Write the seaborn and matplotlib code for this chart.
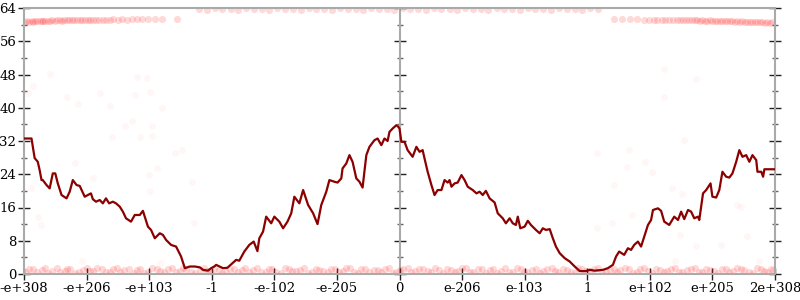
import matplotlib
matplotlib.use("Agg")
import matplotlib.pyplot as plt
import seaborn as sns
import pandas as pd
from matplotlib.ticker import MultipleLocator, NullFormatter, FixedLocator

# ---------------- data ----------------
tick_pos = [-6, -5, -4, -3, -2, -1, 0, 1, 2, 3, 4, 5, 6]
tick_labels = ["-e+308", "-e+206", "-e+103", "-1", "-e-102", "-e-205", "0",
               "e-206", "e-103", "1", "e+102", "e+205", "2e+308"]

line_x = [
    -6.00, -5.88, -5.83, -5.78, -5.75, -5.72, -5.70, -5.64, -5.59, -5.54,
    -5.50, -5.46, -5.40, -5.32, -5.27, -5.22, -5.16, -5.11, -5.03, -4.98,
    -4.93, -4.90, -4.85, -4.79, -4.74, -4.69, -4.64, -4.58, -4.53, -4.47,
    -4.42, -4.37, -4.29, -4.23, -4.15, -4.10, -4.07, -4.02, -3.97, -3.91,
    -3.83, -3.78, -3.73, -3.65, -3.57, -3.49, -3.43, -3.35, -3.27, -3.19,
    -3.14, -3.06, -3.01, -2.96, -2.93, -2.82, -2.75, -2.69, -2.61, -2.56,
    -2.48, -2.40, -2.33, -2.27, -2.24, -2.18, -2.13, -2.05, -2.00, -1.92,
    -1.86, -1.79, -1.73, -1.68, -1.60, -1.54, -1.46, -1.38, -1.31, -1.25,
    -1.17, -1.12, -1.04, -0.99, -0.93, -0.91, -0.85, -0.80, -0.75, -0.69,
    -0.64, -0.59, -0.53, -0.48, -0.40, -0.35, -0.29, -0.24, -0.19, -0.16,
    -0.11, -0.05, -0.03, 0.00, 0.03, 0.08, 0.13, 0.21, 0.27, 0.32,
    0.37, 0.40, 0.45, 0.51, 0.56, 0.61, 0.67, 0.72, 0.77, 0.80,
    0.83, 0.88, 0.93, 0.99, 1.04, 1.09, 1.17, 1.23, 1.28, 1.33,
    1.38, 1.44, 1.52, 1.57, 1.65, 1.70, 1.76, 1.81, 1.86, 1.89,
    1.93, 2.00, 2.05, 2.10, 2.18, 2.24, 2.29, 2.34, 2.40, 2.45,
    2.50, 2.56, 2.64, 2.72, 2.80, 2.88, 2.98, 3.04, 3.12, 3.25,
    3.33, 3.41, 3.46, 3.51, 3.59, 3.65, 3.70, 3.75, 3.81, 3.86,
    3.91, 3.97, 4.02, 4.05, 4.13, 4.18, 4.23, 4.31, 4.39, 4.45,
    4.50, 4.55, 4.61, 4.66, 4.71, 4.77, 4.79, 4.85, 4.90, 4.97,
    5.00, 5.06, 5.11, 5.16, 5.22, 5.27, 5.32, 5.38, 5.43, 5.48,
    5.54, 5.59, 5.64, 5.70, 5.72, 5.78, 5.81, 5.83, 5.91, 5.99,
]
line_y = [
    32.6, 32.6, 27.9, 27.0, 25.0, 22.6, 22.6, 21.4, 20.6, 24.2,
    24.2, 21.8, 19.0, 18.2, 19.8, 22.6, 21.4, 21.2, 18.6, 19.0,
    19.4, 18.0, 17.4, 17.8, 17.0, 18.2, 17.0, 17.4, 17.0, 16.2,
    15.0, 13.4, 12.6, 14.2, 14.2, 15.2, 13.8, 11.4, 10.6, 8.6,
    9.8, 9.4, 8.2, 7.0, 6.6, 4.2, 1.4, 1.8, 1.8, 1.6,
    1.0, 0.8, 1.4, 1.8, 2.2, 1.4, 1.5, 2.3, 3.4, 3.2,
    5.4, 7.0, 7.8, 5.5, 8.6, 10.2, 13.8, 12.2, 13.8, 12.6,
    11.0, 12.6, 14.6, 18.6, 17.0, 20.2, 16.6, 14.6, 12.0, 16.6,
    19.8, 22.6, 22.2, 22.0, 23.0, 25.4, 26.6, 28.6, 27.0, 23.0,
    22.2, 20.8, 28.6, 30.6, 32.2, 32.6, 31.0, 32.6, 32.0, 34.2,
    35.0, 35.8, 35.6, 35.0, 31.8, 31.8, 29.8, 28.2, 30.6, 29.4,
    29.8, 27.8, 24.6, 21.4, 19.0, 20.2, 20.2, 22.6, 22.0, 22.6,
    21.0, 21.8, 22.0, 23.8, 22.6, 21.0, 20.2, 19.4, 19.8, 19.0,
    20.0, 18.2, 17.2, 14.6, 13.4, 12.2, 13.4, 12.2, 11.8, 13.8,
    11.0, 11.4, 12.8, 11.8, 10.6, 9.8, 11.0, 10.6, 10.8, 8.6,
    6.6, 5.0, 3.8, 3.0, 1.8, 0.7, 0.7, 1.0, 0.8, 1.0,
    1.4, 2.2, 4.2, 5.4, 4.6, 6.2, 5.8, 7.0, 7.8, 6.6,
    9.0, 11.8, 13.0, 15.4, 15.8, 15.2, 12.6, 11.8, 13.8, 13.0,
    15.0, 13.2, 15.4, 15.0, 13.4, 13.8, 13.0, 19.4, 20.2, 21.8,
    18.6, 18.4, 20.2, 24.6, 23.4, 23.2, 24.2, 27.0, 29.8, 28.2,
    28.6, 27.0, 28.6, 27.4, 24.6, 24.6, 23.4, 25.2, 25.2, 25.2,
]

# dense faint point bands (bottom strip, two interleaved rows)
band_bottom_x = [
    -5.97, -5.86, -5.71, -5.62, -5.48, -5.35, -5.27, -5.12, -4.99, -4.90,
    -4.76, -4.62, -4.51, -4.40, -4.25, -4.14, -4.02, -3.87, -3.77, -3.63,
    -3.50, -3.41, -3.26, -3.12, -3.03, -2.89, -2.77, -2.64, -2.52, -2.41,
    -2.27, -2.14, -2.03, -1.90, -1.76, -1.66, -1.52, -1.40, -1.28, -1.15,
    -1.03, -0.91, -0.79, -0.66, -0.55, -0.41, -0.29, -0.17, -0.06, 0.06,
    0.19, 0.31, 0.45, 0.56, 0.70, 0.82, 0.93, 1.07, 1.18, 1.32,
    1.44, 1.55, 1.69, 1.81, 1.94, 2.04, 2.18, 2.29, 2.43, 2.54,
    2.68, 2.80, 2.91, 3.05, 3.17, 3.30, 3.42, 3.53, 3.67, 3.79,
    3.90, 4.04, 4.16, 4.27, 4.41, 4.52, 4.66, 4.78, 4.89, 5.03,
    5.15, 5.26, 5.40, 5.51, 5.65, 5.77, 5.88, 5.97,
]
band_bottom_y = [
    0.5, 1.3, 0.9, 0.3, 1.5, 0.7, 1.1, 0.4, 1.4, 0.8,
    1.2, 0.4, 1.5, 0.9, 0.3, 1.3, 0.6, 1.1, 0.5, 1.4,
    0.8, 1.2, 0.3, 1.5, 0.7, 1.0, 0.4, 1.3, 0.9, 0.5,
    1.4, 0.6, 1.1, 0.3, 1.2, 0.8, 1.5, 0.5, 1.0, 0.4,
    1.3, 0.7, 1.4, 0.3, 1.1, 0.9, 0.5, 1.5, 0.6, 1.2,
    0.4, 1.3, 0.8, 1.5, 0.3, 1.0, 0.7, 1.4, 0.5, 1.2,
    0.9, 0.3, 1.5, 0.6, 1.1, 0.4, 1.3, 0.8, 1.4, 0.5,
    1.0, 0.3, 1.2, 0.7, 1.5, 0.4, 1.1, 0.9, 1.3, 0.6,
    1.4, 0.3, 1.0, 0.8, 1.5, 0.5, 1.2, 0.4, 1.3, 0.7,
    1.1, 0.5, 1.4, 0.9, 0.3, 1.2, 0.6, 1.0,
]
band_bottom_x2 = [
    -5.92, -5.79, -5.66, -5.55, -5.42, -5.31, -5.19, -5.06, -4.95, -4.83,
    -4.69, -4.57, -4.46, -4.32, -4.20, -4.08, -3.95, -3.82, -3.70, -3.57,
    -3.46, -3.33, -3.19, -3.08, -2.96, -2.83, -2.71, -2.58, -2.47, -2.34,
    -2.21, -2.09, -1.97, -1.83, -1.71, -1.59, -1.46, -1.34, -1.22, -1.09,
    -0.97, -0.85, -0.73, -0.61, -0.48, -0.35, -0.23, -0.11, 0.00, 0.13,
    0.25, 0.38, 0.50, 0.63, 0.76, 0.88, 1.00, 1.13, 1.25, 1.38,
    1.50, 1.62, 1.75, 1.88, 1.99, 2.11, 2.24, 2.36, 2.49, 2.61,
    2.74, 2.86, 2.98, 3.11, 3.24, 3.36, 3.48, 3.60, 3.73, 3.85,
    3.97, 4.10, 4.22, 4.34, 4.47, 4.59, 4.72, 4.84, 4.96, 5.09,
    5.21, 5.33, 5.46, 5.58, 5.71, 5.83, 5.93,
]
band_bottom_y2 = [
    1.1, 0.4, 1.4, 0.8, 0.5, 1.2, 0.3, 1.0, 0.7, 1.5,
    0.6, 1.3, 0.4, 1.1, 0.9, 0.3, 1.4, 0.7, 1.2, 0.5,
    1.5, 0.4, 1.0, 0.8, 1.3, 0.3, 1.1, 0.6, 1.4, 0.9,
    0.5, 1.2, 0.4, 1.5, 0.7, 1.0, 0.3, 1.3, 0.8, 1.1,
    0.5, 1.4, 0.6, 1.2, 0.4, 1.0, 1.3, 0.3, 0.9, 1.5,
    0.7, 1.1, 0.4, 0.9, 1.3, 0.5, 1.4, 0.6, 1.1, 0.3,
    1.2, 0.8, 0.4, 1.5, 0.6, 1.0, 0.3, 1.3, 0.7, 1.1,
    0.5, 1.4, 0.8, 1.2, 0.4, 1.0, 0.6, 1.5, 0.3, 1.1,
    0.7, 1.3, 0.5, 1.2, 0.4, 0.9, 1.4, 0.6, 1.0, 0.3,
    1.3, 0.8, 1.1, 0.5, 1.4, 0.7, 1.2,
]
band_topleft_x = [-5.98, -5.95, -5.92, -5.88, -5.85, -5.82, -5.79, -5.75, -5.72, -5.69,
                  -5.66, -5.62, -5.58, -5.55, -5.51, -5.47, -5.43, -5.40, -5.36, -5.32,
                  -5.28, -5.24, -5.20, -5.15, -5.11, -5.07, -5.03, -4.98, -4.94, -4.89,
                  -4.85, -4.80, -4.74, -4.69, -4.63, -4.57, -4.50, -4.43, -4.36, -4.28,
                  -4.20, -4.11, -4.02, -3.91, -3.80, -3.55]
band_topleft_y = [60.7, 60.8, 60.7, 60.8, 60.7, 60.8, 60.8, 60.9, 60.8, 60.9,
                  60.9, 60.8, 60.9, 61.0, 60.9, 61.0, 61.0, 60.9, 61.0, 61.1,
                  61.0, 61.1, 61.0, 61.1, 61.1, 61.0, 61.1, 61.2, 61.1, 61.2,
                  61.1, 61.2, 61.2, 61.1, 61.2, 61.3, 61.2, 61.3, 61.2, 61.3,
                  61.3, 61.3, 61.3, 61.4, 61.3, 61.4]
band_topright_x = [3.43, 3.55, 3.68, 3.80, 3.90, 3.98, 4.06, 4.12, 4.19, 4.25,
                   4.31, 4.37, 4.43, 4.48, 4.53, 4.58, 4.63, 4.67, 4.72, 4.76,
                   4.80, 4.84, 4.88, 4.92, 4.96, 5.00, 5.04, 5.08, 5.12, 5.16,
                   5.20, 5.24, 5.28, 5.32, 5.36, 5.40, 5.44, 5.48, 5.52, 5.56,
                   5.60, 5.64, 5.68, 5.72, 5.76, 5.80, 5.84, 5.88, 5.92, 5.96]
band_topright_y = [61.3, 61.3, 61.3, 61.3, 61.2, 61.2, 61.2, 61.2, 61.1, 61.2,
                   61.1, 61.1, 61.1, 61.0, 61.1, 61.0, 61.0, 61.1, 61.0, 61.0,
                   60.9, 61.0, 60.9, 60.9, 61.0, 60.9, 60.9, 60.8, 60.9, 60.8,
                   60.8, 60.9, 60.8, 60.8, 60.7, 60.8, 60.7, 60.8, 60.7, 60.7,
                   60.6, 60.7, 60.6, 60.7, 60.6, 60.6, 60.5, 60.6, 60.5, 60.6]
band_top_x = [-3.20, -3.08, -2.95, -2.83, -2.70, -2.58, -2.45, -2.33, -2.20, -2.08,
              -1.95, -1.83, -1.70, -1.58, -1.45, -1.33, -1.20, -1.08, -0.95, -0.83,
              -0.70, -0.58, -0.45, -0.33, -0.20, -0.08, 0.05, 0.17, 0.30, 0.42,
              0.55, 0.67, 0.80, 0.92, 1.05, 1.17, 1.30, 1.42, 1.55, 1.67,
              1.80, 1.92, 2.05, 2.17, 2.30, 2.42, 2.55, 2.67, 2.80, 2.92,
              3.05, 3.17]
band_top_y = [63.8, 63.6, 63.9, 63.7, 63.8, 63.6, 63.9, 63.7, 63.8, 63.6,
              63.9, 63.7, 63.8, 63.6, 63.9, 63.7, 63.8, 63.6, 63.9, 63.7,
              63.8, 63.6, 63.9, 63.7, 63.8, 63.6, 63.9, 63.7, 63.8, 63.6,
              63.9, 63.7, 63.8, 63.6, 63.9, 63.7, 63.8, 63.6, 63.9, 63.7,
              63.8, 63.6, 63.9, 63.7, 63.8, 63.6, 63.9, 63.7, 63.8, 63.6,
              63.9, 63.7]

# sparse faint points
sparse_x = [-5.59, -5.86, -5.93, -5.32, -4.78, -4.19, -4.03, -3.98, -4.23, -5.13,
            -4.63, -4.39, -4.28, -3.96, -3.96, -4.60, -4.14, -3.80, -3.58, -3.48,
            -5.18, -4.90, -3.87, -4.01, -3.32, -5.89, -3.99, -5.78, -5.73, -5.08,
            -3.83, -3.29, 4.23, 4.73, 4.22, 4.55, 3.16, 3.67, 3.64, 3.93,
            4.04, 3.42, 3.15, 3.39, 3.72, 4.35, 4.52, 4.49, 4.74, 5.56,
            5.40, 5.46, 5.14, 4.41, 5.75]
sparse_y = [48.1, 45.2, 43.6, 42.6, 43.6, 47.4, 47.2, 43.8, 43.0, 40.9,
            40.5, 35.7, 36.9, 35.6, 33.3, 33.0, 33.0, 39.9, 29.1, 29.9,
            26.7, 23.1, 25.5, 23.7, 22.1, 20.8, 20.0, 13.7, 11.8, 3.1,
            2.6, 12.3, 49.3, 47.0, 42.6, 32.2, 29.2, 29.8, 25.7, 27.0,
            24.5, 21.4, 11.1, 12.3, 14.2, 20.7, 19.2, 9.4, 6.7, 9.2,
            16.6, 16.1, 7.0, 3.1, 3.1]

# ---------------- plot ----------------
sns.set_theme(style="white")
plt.rcParams["font.family"] = ["DejaVu Serif"]

fig = plt.figure(figsize=(8, 3), dpi=100)
ax = fig.add_axes([24 / 800, 26 / 300, 751 / 800, 266 / 300])

band_df = pd.DataFrame({
    "x": band_bottom_x + band_bottom_x2 + band_topleft_x + band_topright_x + band_top_x,
    "y": band_bottom_y + band_bottom_y2 + band_topleft_y + band_topright_y + band_top_y,
})
sns.scatterplot(data=band_df, x="x", y="y", ax=ax, color="#ff1a1a", s=26,
                alpha=0.17, linewidth=0, zorder=1)
sparse_df = pd.DataFrame({"x": sparse_x, "y": sparse_y})
sns.scatterplot(data=sparse_df, x="x", y="y", ax=ax, color="#ff3030", s=24,
                alpha=0.045, linewidth=0, zorder=1)

line_df = pd.DataFrame({"x": line_x, "y": line_y})
sns.lineplot(data=line_df, x="x", y="y", ax=ax, color="#8b0000", linewidth=1.6,
             sort=False, estimator=None, zorder=3)

ax.set_xlim(-6, 6)
ax.set_ylim(0, 64)
ax.set_xlabel("")
ax.set_ylabel("")

ax.xaxis.set_major_locator(FixedLocator(tick_pos))
ax.set_xticklabels(tick_labels)
ax.yaxis.set_major_locator(MultipleLocator(8))
ax.yaxis.set_minor_locator(MultipleLocator(4))

for side in ["left", "right", "top", "bottom"]:
    ax.spines[side].set_color("#aaaaaa")
    ax.spines[side].set_linewidth(1.5)
    ax.spines[side].set_visible(True)

ax.tick_params(axis="both", which="major", direction="inout", length=8, width=1,
               color="#222222", labelsize=9.5, labelcolor="black", pad=1.5)
ax.tick_params(axis="y", which="both", left=True, right=True, labelright=False)
ax.tick_params(axis="y", which="minor", direction="inout", length=4.5, width=1,
               color="#666666")
ax.tick_params(axis="x", bottom=True, top=False, pad=2)

# center axis at x = 0
sec = ax.secondary_yaxis(0.5)
sec.yaxis.set_major_locator(MultipleLocator(8))
sec.yaxis.set_minor_locator(MultipleLocator(4))
sec.yaxis.set_major_formatter(NullFormatter())
sec.yaxis.set_minor_formatter(NullFormatter())
for side in ["left", "right"]:
    sec.spines[side].set_color("#aaaaaa")
    sec.spines[side].set_linewidth(1.5)
sec.tick_params(which="major", direction="inout", length=8, width=1, color="#222222")
sec.tick_params(which="minor", direction="inout", length=4.5, width=1, color="#666666")

fig.savefig("out.png", dpi=100)
